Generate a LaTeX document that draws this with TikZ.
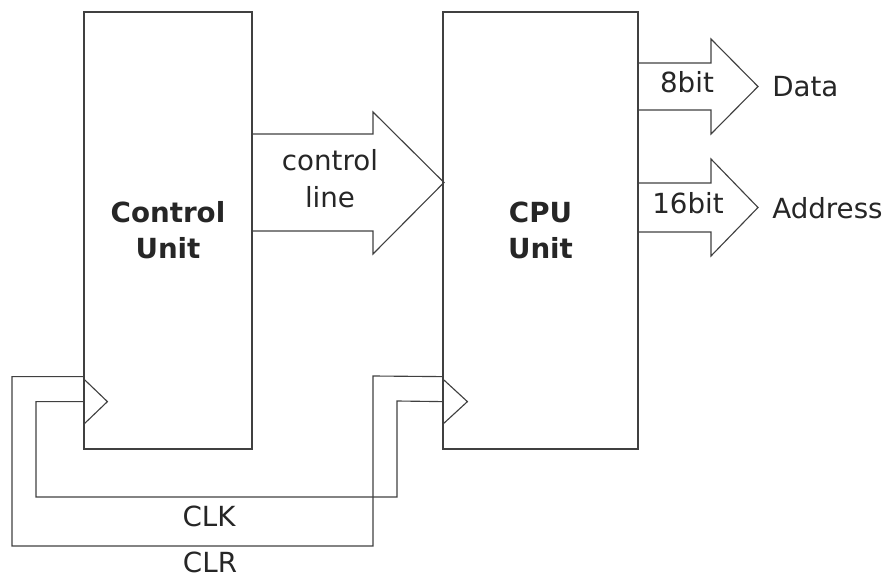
\documentclass[tikz,border=0pt]{standalone}
\usepackage{fontspec}
\setmainfont{DejaVu Sans}
\usetikzlibrary{calc}

\begin{document}
\begin{tikzpicture}[
    x=0.025cm, y=-0.025cm,
    unit/.style={
        rectangle, draw=black!75, line width=0.8pt,
        minimum height=10.925cm, inner sep=0pt,
        text=black!85, align=center,
        font=\fontsize{19.7}{25.5}\selectfont\bfseries
    },
    wire/.style={draw=black!75, line width=0.8pt},
    txt/.style={text=black!85, align=center, inner sep=0pt,
        font=\fontsize{19.7}{26}\selectfont},
]
\useasboundingbox (0,0) rectangle (884,578);

% Blocchi
\node[unit, minimum width=4.2cm]   (ctrl) at (168,230.5) {Control\\Unit};
\node[unit, minimum width=4.875cm] (cpu)  at (540.5,230.5) {CPU\\Unit};

% Ingressi clock
\coordinate (ctrlclk) at ($(ctrl.south west)+(0,-48)$);
\coordinate (ctrlclr) at ($(ctrl.south west)+(0,-73)$);
\coordinate (cpuclk)  at ($(cpu.south west)+(0,-48)$);
\coordinate (cpuclr)  at ($(cpu.south west)+(0,-73)$);

\draw[wire] ($(ctrlclk)+(0,-23)$) -- ++(24,23) -- ++(-24,23);
\draw[wire] ($(cpuclk)+(0,-23)$) -- ++(25,23) -- ++(-25,23);

% Linee CLK / CLR
\draw[wire] (ctrlclk) -| (36,497) -| (397,401) -- (cpuclk);
\draw[wire] (ctrlclr) -| (12,546) -| (373,376) -- (cpuclr);

\node[txt] (clk) at (209,516) {CLK};
\node[txt] (clr) at (210,562) {CLR};

% Freccia control line
\draw[wire] (252,134) -- (373,134) -- (373,112) -- (444,182.5)
    -- (373,254) -- (373,231) -- (252,231);
\node[txt] (ctl) at (330,178.5) {control\\line};

% Bus in uscita
\draw[wire] (638,63) -- (711,63) -- (711,39) -- (758,86.5)
    -- (711,134) -- (711,110) -- (638,110);
\draw[wire] (638,183) -- (711,183) -- (711,159) -- (758,207.5)
    -- (711,256) -- (711,232) -- (638,232);

\node[txt] (bit8)  at (687,82)  {8bit};
\node[txt] (bit16) at (688,203) {16bit};
\node[txt, anchor=west] (data) at (772,87)  {Data};
\node[txt, anchor=west] (addr) at (772,208) {Address};
\end{tikzpicture}
\end{document}
